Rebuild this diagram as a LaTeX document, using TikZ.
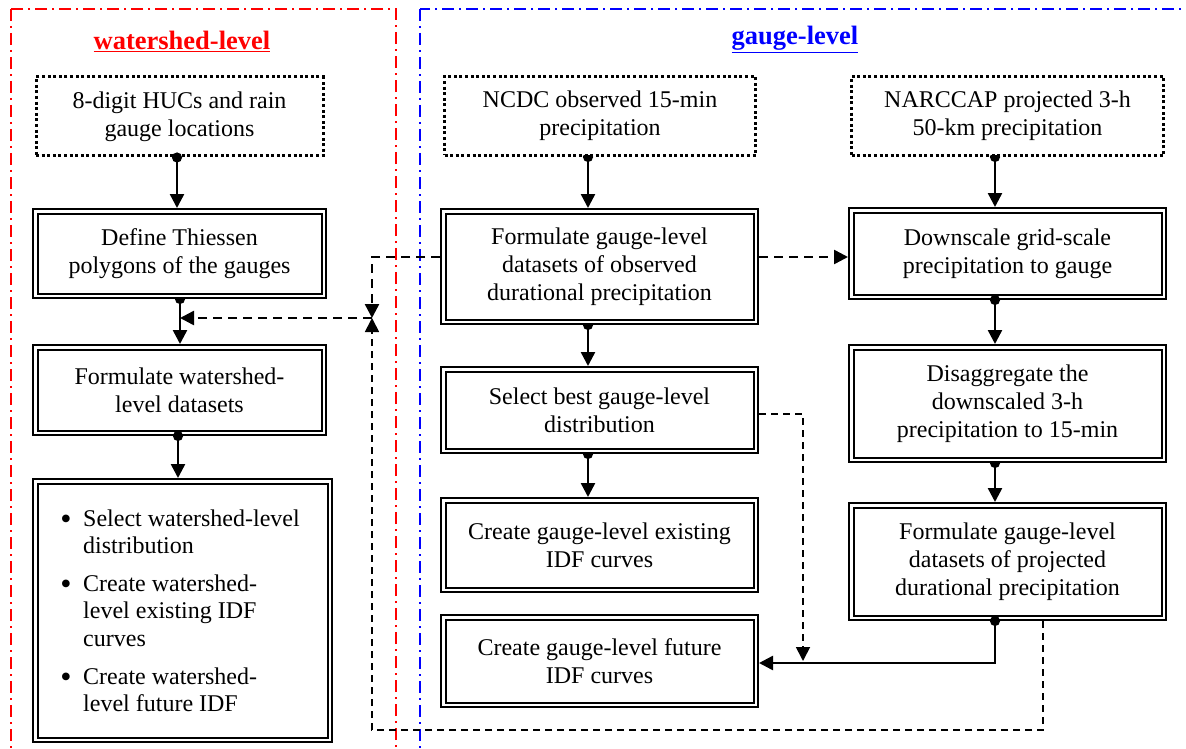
\documentclass[tikz,border=0pt]{standalone}
\usepackage{fontspec}
\setmainfont{Liberation Serif}
\usetikzlibrary{arrows.meta,backgrounds}
\begin{document}
\begin{tikzpicture}[x=1pt,y=-1pt,
  txt/.style={font=\fontsize{24}{28}\selectfont, align=center},
  dbox/.style={txt, draw, line width=2pt, double=white, double distance=2.5pt, fill=white, inner sep=0pt, outer sep=3.25pt},
  dotbox/.style={txt, draw, line width=3pt, dash pattern=on 3pt off 2.6pt, fill=white, inner sep=0pt, outer sep=1.5pt},
  tri/.tip={Triangle[length=14pt,width=14pt]},
  conn/.style={line width=2.5pt, -tri},
  dconn/.style={line width=2.5pt, {Circle[length=10pt]}-tri, shorten <=-5pt},
  thickdash/.style={line width=2.5pt, dash pattern=on 9pt off 6pt, -tri},
  thindash/.style={line width=1.8pt, dash pattern=on 7pt off 5pt, -tri},
  frame/.style={line width=1.6pt, dash pattern=on 12pt off 5pt on 2pt off 5pt},
  itemtxt/.style={font=\fontsize{24}{27.5}\selectfont, align=left, inner sep=0pt, anchor=base west},
  bul/.style={font=\fontsize{32}{32}\selectfont, inner sep=0pt, anchor=base}]
\useasboundingbox (0,0) rectangle (1186,749);
\clip (0,0) rectangle (1186,749);

% frames
\draw[frame, red] (11,9) rectangle (396,770);
\draw[frame, blue] (420,9) rectangle (1200,770);

% titles
\node[text=red, font=\fontsize{26.5}{30}\selectfont\bfseries, anchor=base, inner sep=0pt] (t1) at (182,50) {\underline{watershed-level}};
\node[text=blue, font=\fontsize{26.5}{30}\selectfont\bfseries, anchor=base, inner sep=0pt] (t2) at (795,45) {\underline{gauge-level}};

% left column
\node[dotbox, minimum width=287pt, minimum height=79pt] (hucs) at (179.5,116.5) {8-digit HUCs and rain\\gauge locations};
\node[dbox, minimum width=288.5pt, minimum height=84.5pt] (thi) at (179.5,253.5) {Define Thiessen\\polygons of the gauges};
\node[dbox, minimum width=288.5pt, minimum height=85.5pt] (fwd) at (179.5,390) {Formulate watershed-\\level datasets};
\node[dbox, minimum width=294.5pt, minimum height=258.5pt] (bul) at (182.5,610.5) {};
\node[bul] (b1) at (66,529) {\textbullet};
\node[bul] (b2) at (66,594) {\textbullet};
\node[bul] (b3) at (66,687) {\textbullet};
\node[itemtxt] (i1) at (83,553.5) {Select watershed-level\\distribution};
\node[itemtxt] (i2) at (83,646) {Create watershed-\\level existing IDF\\curves};
\node[itemtxt] (i3) at (83,711.5) {Create watershed-\\level future IDF};

% middle column
\node[dotbox, minimum width=311pt, minimum height=79pt] (ncdc) at (600,116) {NCDC observed 15-min\\precipitation};
\node[dbox, minimum width=312.5pt, minimum height=110.5pt] (fgo) at (599.5,266.5) {Formulate gauge-level\\datasets of observed\\durational precipitation};
\node[dbox, minimum width=312.5pt, minimum height=81.5pt] (sel) at (599.5,410) {Select best gauge-level\\distribution};
\node[dbox, minimum width=312.5pt, minimum height=89.5pt] (cge) at (599.5,545) {Create gauge-level existing\\IDF curves};
\node[dbox, minimum width=312.5pt, minimum height=87.5pt] (cgf) at (599.5,661) {Create gauge-level future\\IDF curves};

% right column
\node[dotbox, minimum width=312pt, minimum height=79pt] (narc) at (1007.5,116) {NARCCAP projected 3-h\\50-km precipitation};
\node[dbox, minimum width=312.5pt, minimum height=86.5pt] (down) at (1007.5,253.5) {Downscale grid-scale\\precipitation to gauge};
\node[dbox, minimum width=312.5pt, minimum height=112.5pt] (dis) at (1007.5,403.5) {Disaggregate the\\downscaled 3-h\\precipitation to 15-min};
\node[dbox, minimum width=312.5pt, minimum height=112.5pt] (fgp) at (1007.5,561.5) {Formulate gauge-level\\datasets of projected\\durational precipitation};

% helper coordinates
\coordinate (jl) at (372,257);
\coordinate (jm) at (372,318);
\coordinate (tm) at (180,318);
\coordinate (lb) at (1043,730);
\coordinate (lc) at (372,730);
\coordinate (sr) at (803,414);
\coordinate (sb) at (803,661);
\coordinate (fb) at (995,663);

% connectors with half dots (behind boxes)
\begin{scope}[on background layer]
\draw[dconn] ([xshift=0.5pt]thi.south) -- ([xshift=0.5pt]fwd.north);
\draw[dconn] ([xshift=-12pt]ncdc.south) -- ([xshift=-11.5pt]fgo.north);
\draw[dconn] ([xshift=-11.5pt]fgo.south) -- ([xshift=-11.5pt]sel.north);
\draw[dconn] ([xshift=-11.5pt]sel.south) -- ([xshift=-11.5pt]cge.north);
\draw[dconn] ([xshift=-12.5pt]narc.south) -- ([xshift=-12.5pt]down.north);
\draw[dconn] ([xshift=-12.5pt]dis.south) -- ([xshift=-12.5pt]fgp.north);
\end{scope}

% connectors with full dots
\draw[dconn] ([xshift=-2.5pt]hucs.south) -- ([xshift=-2.5pt]thi.north);
\draw[dconn] ([xshift=-1.5pt]fwd.south) -- ([xshift=-4.5pt]bul.north);
\draw[dconn] ([xshift=-12.5pt]down.south) -- ([xshift=-12.5pt]dis.north);
\draw[dconn] (fgp.south -| fb) -- (fb) -- (cgf.east |- fb);

% dashed connectors
\draw[thickdash] (fgo.west |- jl) -- (jl) -- (jm);
\draw[thickdash] (jm) -- (tm);
\draw[thickdash] (fgo.east |- jl) -- (down.west |- jl);
\draw[thindash] (fgp.south -| lb) -- (lb) -- (lc) -- (jm);
\draw[thindash] (sel.east |- sr) -- (sr) -- (sb);
\end{tikzpicture}
\end{document}
